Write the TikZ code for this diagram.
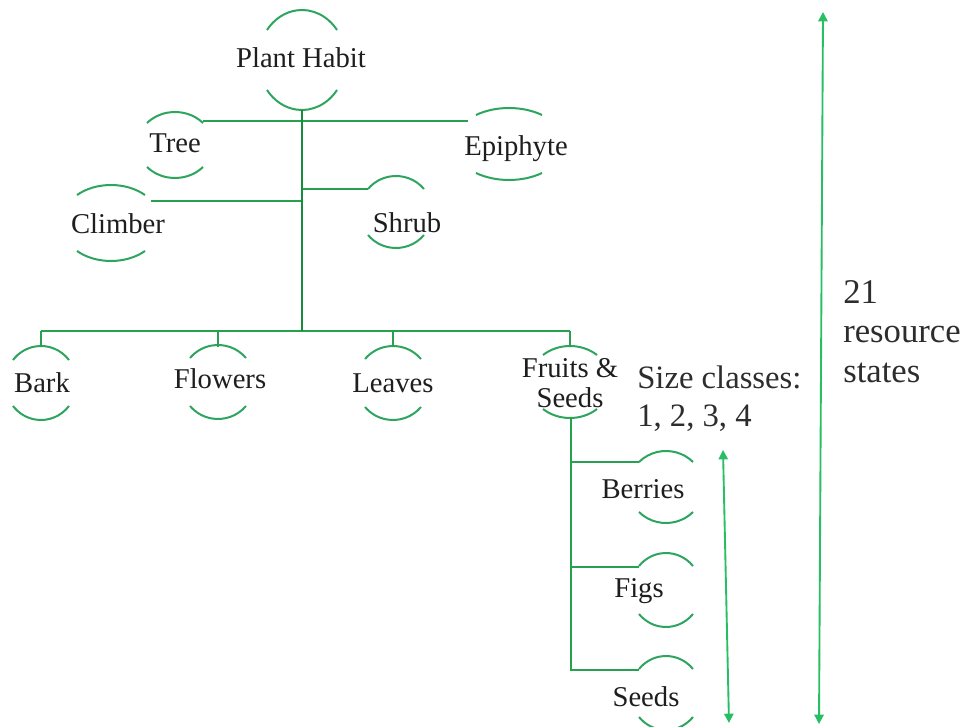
\documentclass[tikz,border=0pt]{standalone}
\usepackage{fontspec}
\setmainfont{Liberation Serif}
\usetikzlibrary{arrows.meta}
\definecolor{arcgreen}{RGB}{46,165,95}
\definecolor{linegreen}{RGB}{40,160,80}
\definecolor{trunkgreen}{RGB}{22,140,60}
\definecolor{arrowgreen}{RGB}{40,190,100}
\definecolor{textc}{RGB}{30,30,30}
\definecolor{textl}{RGB}{45,45,45}
\newcommand\lensarcs[5]{%
  \pgfmathsetmacro\lnst{asin(#4/#5)}%
  \pgfmathsetmacro\lnsrx{#3/cos(\lnst)}%
  \draw[lensline] (#1+#3,#2-#4) arc[start angle=-\lnst, end angle=-180+\lnst, x radius=\lnsrx, y radius=#5];
  \draw[lensline] (#1+#3,#2+#4) arc[start angle=\lnst, end angle=180-\lnst, x radius=\lnsrx, y radius=#5];
}
\begin{document}
\begin{tikzpicture}[x=0.75pt,y=-0.75pt,
  lensline/.style={draw=arcgreen, line width=1.5pt},
  conn/.style={draw=linegreen, line width=1.4pt},
  trunk/.style={draw=trunkgreen, line width=2.2pt},
  arr/.style={draw=arrowgreen, line width=1.4pt, {Triangle[width=7pt,length=7pt]}-{Triangle[width=7pt,length=7pt]}},
  lbl/.style={font=\fontsize{21.5}{22.5}\selectfont, text=textc, inner sep=0pt, align=center},
  side/.style={font=\fontsize{24.5}{28}\selectfont, text=textl, inner sep=0pt, align=left, anchor=north west}]
\clip (0,0) rectangle (966,727);
\fill[white] (0,0) rectangle (966,727);

% lens arcs
\lensarcs{302}{60}{35}{30}{50}
\lensarcs{175}{145}{28}{22}{33}
\lensarcs{509}{144}{33}{29}{36}
\lensarcs{111}{223}{34}{28}{38}
\lensarcs{396}{212}{28}{23}{36}
\lensarcs{41}{383}{28}{23}{37}
\lensarcs{218}{382}{28}{24}{37}
\lensarcs{393}{383}{28}{24}{37}
\lensarcs{570}{382}{27}{27}{36}
\lensarcs{666}{487}{27}{25}{36}
\lensarcs{666}{590}{27}{24}{37}
\lensarcs{666}{693}{27}{24}{37}

% text nodes
\node[lbl] (ph) at (301,58) {Plant Habit};
\node[lbl] (tree) at (175,143) {Tree};
\node[lbl] (epi) at (516,149) {Epiphyte};
\node[lbl] (climb) at (118,224) {Climber};
\node[lbl] (shrub) at (407,223) {Shrub};
\node[lbl] (bark) at (42,383) {Bark};
\node[lbl] (flow) at (220,379) {Flowers};
\node[lbl] (leaf) at (393,383) {Leaves};
\node[lbl] (fruit) at (570,383) {Fruits \&\\Seeds};
\node[lbl] (berry) at (643,489) {Berries};
\node[lbl] (fig) at (639,591) {Figs};
\node[lbl] (seed) at (646,697) {Seeds};
\node[side] (size) at (637,366) {Size classes:\\1, 2, 3, 4};
\node[side, font=\fontsize{26}{29.6}\selectfont] (res) at (843,280) {21\\resource\\states};

% connection points
\coordinate (ph-b) at (302,110);
\coordinate (trunk-e) at (302,331);
\coordinate (tree-e) at (203,121);
\coordinate (epi-w) at (468,121);
\coordinate (tr-tree) at (302,121);
\coordinate (climb-e) at (151,201);
\coordinate (tr-climb) at (302,201);
\coordinate (shrub-w) at (368,189);
\coordinate (tr-shrub) at (302,189);
\coordinate (bar-l) at (41,331);
\coordinate (bar-r) at (570,331);
\coordinate (bark-t) at (41,347);
\coordinate (flow-t) at (218,347);
\coordinate (leaf-t) at (393,347);
\coordinate (fruit-t) at (570,347);
\coordinate (fruit-b) at (571,418);
\coordinate (fb-seed) at (571,670);
\coordinate (fb-berry) at (571,462);
\coordinate (fb-fig) at (571,567);
\coordinate (berry-w) at (639,462);
\coordinate (fig-w) at (639,567);
\coordinate (seed-w) at (639,670);
\coordinate (sz-t) at (723,450);
\coordinate (sz-b) at (729,723);
\coordinate (rs-t) at (823,12);
\coordinate (rs-b) at (819,724);

% connectors
\draw[conn] (tree-e) -- (epi-w);
\draw[conn] (climb-e) -- (tr-climb);
\draw[conn] (tr-shrub) -- (shrub-w);
\draw[conn] (bar-l) -- (bar-r);
\draw[conn] (bar-l) -- (bark-t);
\draw[conn] (bar-l -| flow-t) -- (flow-t);
\draw[conn] (bar-l -| leaf-t) -- (leaf-t);
\draw[conn] (bar-r) -- (fruit-t);
\draw[conn] (fruit-b) -- (fb-seed) -- (seed-w);
\draw[conn] (fb-berry) -- (berry-w);
\draw[conn] (fb-fig) -- (fig-w);
\draw[trunk] (ph-b) -- (trunk-e);

% arrows
\draw[arr] (sz-t) -- (sz-b);
\draw[arr] (rs-t) -- (rs-b);
\end{tikzpicture}
\end{document}
